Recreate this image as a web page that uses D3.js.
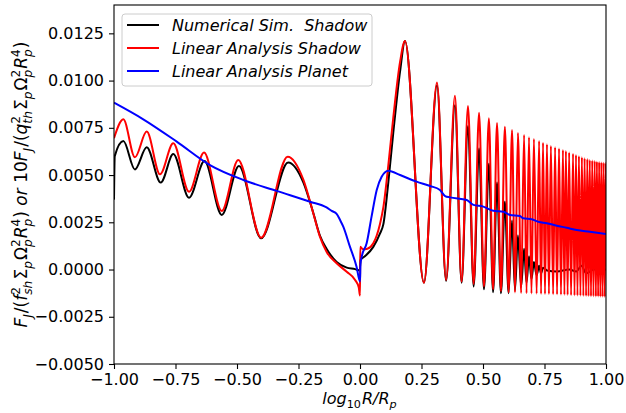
<!DOCTYPE html>
<html><head><meta charset="utf-8">
<script src="https://cdn.jsdelivr.net/npm/d3@7"></script>
<style>
body{margin:0;background:#fff;}
svg{display:block;font-family:"DejaVu Sans",sans-serif;}
</style></head>
<body>
<svg id="c" width="626" height="413"></svg>
<script>
// ---------------- data ----------------
const xTicks = [-1.0, -0.75, -0.5, -0.25, 0.0, 0.25, 0.5, 0.75, 1.0];
const yTicks = [-0.005, -0.0025, 0.0, 0.0025, 0.005, 0.0075, 0.01, 0.0125];
const seriesNames = ["Numerical Sim.  Shadow", "Linear Analysis Shadow", "Linear Analysis Planet"];
const seriesColors = ["#000000", "#ff0000", "#0000ff"];

const numericalShadow = [
  [-1.0,0.0037],[-0.997,0.0060],[-0.962,0.0068],[-0.915,0.0053],[-0.867,0.00647],[-0.81,0.0046],
  [-0.759,0.00611],[-0.695,0.0038],[-0.632,0.00574],[-0.562,0.00289],[-0.492,0.00548],[-0.402,0.00165],
  [-0.292,0.00567],[-0.23,0.0046],[-0.19,0.0030],[-0.163,0.0018],[-0.136,0.0011],[-0.095,0.0004],
  [-0.054,0.0001],[-0.02,0.00002],[-0.001,-0.00005],[0.002,0.0005],[0.02,0.0007],[0.054,0.0012],
  [0.081,0.0019],[0.095,0.0024],[0.115,0.0046],[0.135,0.0072],[0.163,0.0105],[0.183,0.0121],
  [0.26,-0.0007],[0.313,0.00975],[0.35,-0.0006],[0.386,0.0087],[0.413,-0.0007],[0.439,0.0076],
  [0.462,-0.0009],[0.484,0.0064],[0.504,-0.00105],[0.524,0.0056],[0.541,-0.0012],[0.557,0.0046],
  [0.573,-0.00126],[0.589,0.0036],[0.604,-0.00126],[0.618,0.0026],[0.630,-0.0011],[0.642,0.0018],
  [0.655,-0.0009],[0.667,0.0011],[0.677,-0.0007],[0.687,0.0007],[0.697,-0.0005],[0.707,0.0004],
  [0.718,-0.0003],[0.728,0.0002],[0.736,-0.0002],[0.744,0.0001],[0.76,-0.00005],[0.8,-0.0001],
  [0.85,0.0],[0.88,-0.0001],[0.9,0.0002],[0.92,-0.0002],[0.95,0.0],[1.0,0.0]
];

const linearShadow = [
  [-1.0,0.00695],[-0.962,0.00795],[-0.915,0.00594],[-0.867,0.0073],[-0.813,0.00504],[-0.759,0.00668],
  [-0.695,0.00412],[-0.634,0.00619],[-0.562,0.0031],[-0.495,0.0058],[-0.402,0.00168],[-0.294,0.00597],
  [-0.23,0.00474],[-0.19,0.00298],[-0.163,0.00174],[-0.136,0.00094],[-0.095,0.00033],[-0.054,-0.00012],
  [-0.02,-0.00055],[-0.005,-0.00095],[0.0,-0.00138],[0.001,0.00121],[0.012,0.00107],[0.03,0.0011],
  [0.054,0.00139],[0.068,0.0018],[0.081,0.0024],[0.095,0.0033],[0.115,0.0055],[0.135,0.0080],
  [0.163,0.0110],[0.183,0.0121],
  [0.26,-0.0007],[0.313,0.0099],[0.35,-0.00055],[0.386,0.0092],[0.413,-0.00064],[0.439,0.00866],
  [0.462,-0.00077],[0.484,0.0083],[0.504,-0.0009],[0.524,0.0080],[0.541,-0.00105],[0.557,0.00776],
  [0.573,-0.00115],[0.589,0.00756],[0.604,-0.0012],[0.618,0.00738],[0.630,-0.00122],[0.642,0.00723],
  [0.655,-0.00124],[0.667,0.00712],[0.677,-0.00126],[0.687,0.0070],[0.697,-0.00127],[0.707,0.00691],
  [0.718,-0.00128],[0.728,0.0068],[0.736,-0.00129],[0.744,0.00671],[0.752,-0.0013],[0.760,0.00663],
  [0.768,-0.0013],[0.776,0.00654],[0.785,-0.00131],[0.793,0.00647],[0.801,-0.00132],[0.809,0.0064],
  [0.817,-0.00133],[0.825,0.00633],[0.831,-0.00134],[0.837,0.00627],[0.844,-0.00135],[0.850,0.0062],
  [0.858,-0.00136],[0.866,0.00613],[0.872,-0.00137],[0.878,0.00606],[0.884,-0.00138],[0.890,0.006],
  [0.896,-0.00139],[0.902,0.00594],[0.908,-0.0014],[0.913,0.00589],[0.919,-0.0014],[0.924,0.00585],
  [0.929,-0.00141],[0.934,0.0058],[0.939,-0.00142],[0.944,0.00577],[0.949,-0.00142],[0.954,0.00574],
  [0.959,-0.00143],[0.963,0.00571],[0.968,-0.00143],[0.972,0.00569],[0.977,-0.00144],[0.981,0.00567],
  [0.986,-0.00144],[0.990,0.00565],[0.995,-0.00145],[0.999,0.00564],[1.0,0.005]
];

const linearPlanet = [
  [-1.0,0.00883],[-0.881,0.00795],[-0.745,0.00677],[-0.61,0.00553],[-0.474,0.00474],[-0.339,0.00416],
  [-0.203,0.00359],[-0.136,0.00329],[-0.115,0.0031],[-0.095,0.00295],[-0.081,0.00262],[-0.068,0.00227],
  [-0.041,0.00121],[-0.014,0.00015],[0.0,-0.00064],[0.002,0.0003],[0.007,0.00068],[0.027,0.00139],
  [0.047,0.0028],[0.068,0.00421],[0.088,0.00491],[0.115,0.00523],[0.163,0.005],[0.23,0.00465],
  [0.285,0.00442],[0.325,0.00421],[0.346,0.00389],[0.366,0.00382],[0.434,0.00368],[0.461,0.00342],
  [0.501,0.00333],[0.542,0.00311],[0.583,0.00306],[0.61,0.00289],[0.65,0.00283],[0.664,0.00271],
  [0.698,0.00266],[0.725,0.00253],[0.759,0.00245],[0.8,0.00232],[0.84,0.00221],[0.881,0.00209],
  [0.935,0.002],[1.0,0.00188]
];

// ---------------- drawing ----------------
const svg = d3.select("#c");
const L = 114, R = 606, T = 5, B = 364;
const x = d3.scaleLinear().domain([-1, 1]).range([L, R]);
const y = d3.scaleLinear().domain([-0.005, 0.014]).range([B, T]);
const FS = 16;

svg.append("defs").append("clipPath").attr("id", "clip")
  .append("rect").attr("x", L).attr("y", T).attr("width", R - L).attr("height", B - T);

const line = d3.line().x(d => x(d[0])).y(d => y(d[1])).curve(d3.curveMonotoneX);
const plot = svg.append("g").attr("clip-path", "url(#clip)");
[numericalShadow, linearShadow, linearPlanet].forEach((s, i) => {
  plot.append("path").attr("d", line(s)).attr("fill", "none")
    .attr("stroke", seriesColors[i]).attr("stroke-width", 2).attr("stroke-linejoin", "round");
});

// axes
const fmtX = d3.format(".2f"), fmtY = d3.format(".4f");
const gx = svg.append("g").attr("transform", `translate(0,${B})`)
  .call(d3.axisBottom(x).tickValues(xTicks).tickFormat(fmtX).tickSize(5).tickPadding(5));
const gy = svg.append("g").attr("transform", `translate(${L},0)`)
  .call(d3.axisLeft(y).tickValues(yTicks).tickFormat(fmtY).tickSize(5).tickPadding(5));
[gx, gy].forEach(g => {
  g.select(".domain").remove();
  g.selectAll("line").attr("stroke", "#000").attr("stroke-width", 1.1);
  g.selectAll("text").attr("font-size", FS).attr("font-family", "DejaVu Sans").attr("fill", "#000");
});
svg.append("rect").attr("x", L).attr("y", T).attr("width", R - L).attr("height", B - T)
  .attr("fill", "none").attr("stroke", "#000").attr("stroke-width", 1.1);

// math-like text builder
function mathText(g, pieces, fs, sc) {
  const ss = fs * sc;
  let cx = 0;
  pieces.forEach(p => {
    if (p.t !== undefined) {
      const t = g.append("text").attr("x", cx).attr("y", 0).attr("font-size", fs)
        .attr("font-style", p.up ? "normal" : "italic").attr("xml:space", "preserve").text(p.t);
      cx += t.node().getComputedTextLength();
    } else {
      let w = 0;
      if (p.sup) {
        const t = g.append("text").attr("x", cx).attr("y", -fs * 0.42).attr("font-size", ss)
          .attr("font-style", /\d/.test(p.sup) ? "normal" : "italic").text(p.sup);
        w = Math.max(w, t.node().getComputedTextLength());
      }
      if (p.sub) {
        const t = g.append("text").attr("x", cx).attr("y", fs * 0.27).attr("font-size", ss)
          .attr("font-style", /^\d+$/.test(p.sub) ? "normal" : "italic").text(p.sub);
        w = Math.max(w, t.node().getComputedTextLength());
      }
      cx += w + 1;
    }
  });
  return cx;
}

// x label
const xl = svg.append("g");
const xw = mathText(xl, [{t:"log"},{sub:"10"},{t:"R/R"},{sub:"p"}], FS, 0.7);
xl.attr("transform", `translate(${(L + R) / 2 - xw / 2},404)`);

// y label
const yl = svg.append("g");
const yw = mathText(yl, [
  {t:"F"},{sub:"J"},{t:"/(",up:1},{t:"f"},{sup:"2",sub:"sh"},{t:"Σ",up:1},{sub:"p"},{t:"Ω",up:1},{sup:"2",sub:"p"},
  {t:"R"},{sup:"4",sub:"p"},{t:")",up:1},{t:" or "},{t:"10",up:1},{t:"F"},{sub:"J"},{t:"/(",up:1},{t:"q"},{sup:"2",sub:"th"},
  {t:"Σ",up:1},{sub:"p"},{t:"Ω",up:1},{sup:"2",sub:"p"},{t:"R"},{sup:"4",sub:"p"},{t:")",up:1}
], 17, 0.72);
yl.attr("transform", `translate(27,${(T + B) / 2 + yw / 2}) rotate(-90)`);

// legend
const lg = svg.append("g");
lg.append("rect").attr("x", 122).attr("y", 14).attr("width", 250).attr("height", 72).attr("rx", 3)
  .attr("fill", "#fff").attr("fill-opacity", 0.8).attr("stroke", "#cccccc").attr("stroke-width", 1);
seriesNames.forEach((n, i) => {
  const yy = 25 + i * 23;
  lg.append("line").attr("x1", 127).attr("x2", 159).attr("y1", yy).attr("y2", yy)
    .attr("stroke", seriesColors[i]).attr("stroke-width", 2);
  lg.append("text").attr("x", 172).attr("y", yy + 5.5).attr("font-size", FS).attr("font-style", "italic")
    .attr("xml:space", "preserve").text(n);
});
</script>
</body></html>
